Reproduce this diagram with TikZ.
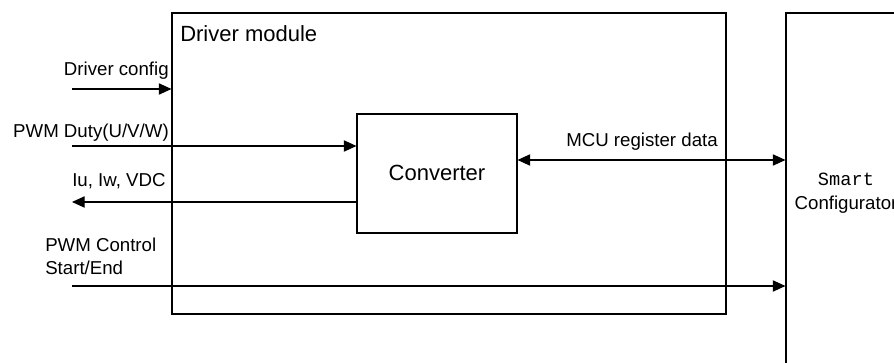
\documentclass[tikz,border=0pt]{standalone}
\usepackage{fontspec}
\setmainfont{Liberation Sans}
\setmonofont{Liberation Mono}
\usetikzlibrary{positioning,arrows.meta,fit}

\tikzset{
  >={Triangle[length=9.5pt,width=8.5pt]},
  blockbox/.style={draw, line width=0.8pt, inner sep=0pt},
  sig/.style={line width=0.8pt},
  lbl/.style={inner sep=0pt, font=\fontsize{14}{17}\selectfont},
  biglbl/.style={inner sep=0pt, font=\fontsize{16.5}{20}\selectfont}
}

\begin{document}
\begin{tikzpicture}[x=0.75pt, y=-0.75pt]
\clip (0,0) rectangle (894,363);
\useasboundingbox (0,0) rectangle (894,363);

% blocks
\node[blockbox, fit={(172,13) (726,314)}] (driver) {};
\node[blockbox, fit={(357,114) (517,233)}] (conv) {};
\node[blockbox, fit={(786,13) (906,390)}] (smart) {};

\node[biglbl, anchor=base west] (drvtitle) at (180,42) {Driver module};
\node[biglbl, anchor=base] (convtitle) at (437,181) {Converter};
\node[lbl, anchor=base, font=\fontsize{14}{17}\selectfont\ttfamily] (smarttitle) at (846,186) {Smart};
\node[lbl, anchor=base] (smarttitle2) at (846,210) {Configurator};

% signals
\coordinate (cfgin) at (72,89);
\coordinate (dutyin) at (72,146);
\coordinate (fbout) at (72,202);
\coordinate (ctrlin) at (72,286);
\coordinate (regbus) at (650,160);

\draw[sig, ->] (cfgin) -- (cfgin -| driver.west);
\draw[sig, ->] (dutyin) -- (dutyin -| conv.west);
\draw[sig, ->] (fbout -| conv.west) -- (fbout);
\draw[sig, ->] (ctrlin) -- (ctrlin -| smart.west);
\draw[sig, <->] (regbus -| conv.east) -- (regbus -| smart.west);

\node[lbl, anchor=base east] (cfgtxt) at (169,76) {Driver config};
\node[lbl, anchor=base east] (dutytxt) at (169,138) {PWM Duty(U/V/W)};
\node[lbl, anchor=base west] (fbtxt) at (72,187) {Iu, Iw, VDC};
\node[lbl, anchor=base west] (ctrltxt) at (45,252) {PWM Control};
\node[lbl, anchor=base west] (ctrltxt2) at (45,275) {Start/End};
\node[lbl, anchor=base] (regtxt) at (642,147) {MCU register data};
\end{tikzpicture}
\end{document}
